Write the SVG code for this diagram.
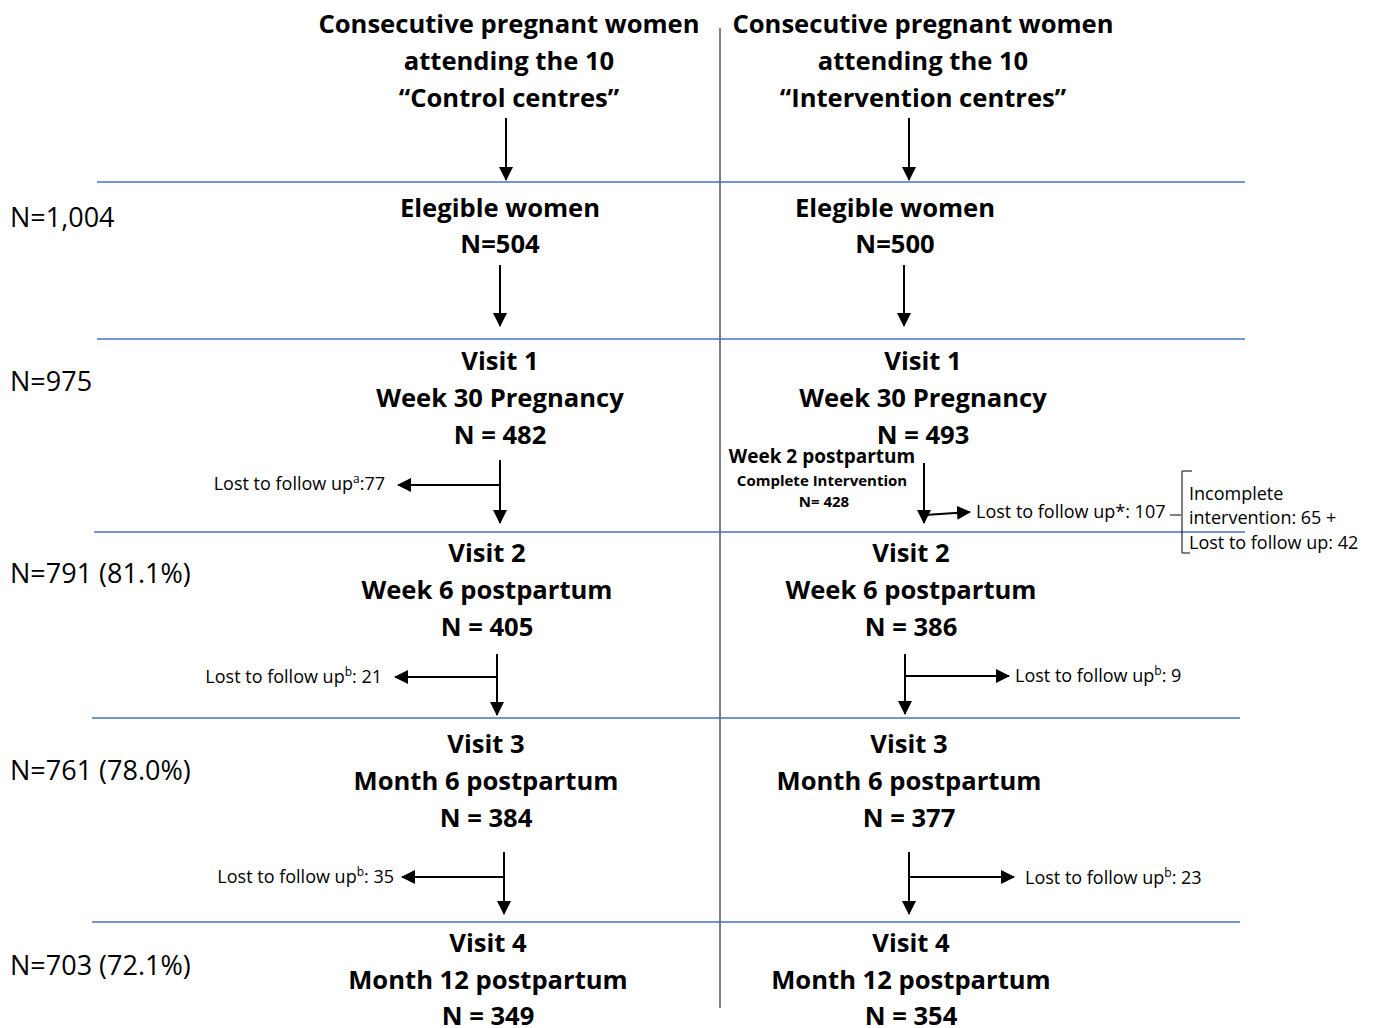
<svg xmlns="http://www.w3.org/2000/svg" width="1373" height="1028" viewBox="0 0 1373 1028">
<defs>
<marker id="ah" markerWidth="7" markerHeight="7" refX="6.5" refY="3.5" orient="auto" markerUnits="strokeWidth">
<path d="M0,0 L7,3.5 L0,7 Z" fill="#000"/>
</marker>
<style>
.t{font-family:"Open Sans","Liberation Sans",sans-serif;font-weight:bold;font-size:25.6px;fill:#000;text-anchor:middle}
.n{font-family:"Open Sans","Liberation Sans",sans-serif;font-size:27px;fill:#000}
.s{font-family:"Open Sans","Liberation Sans",sans-serif;font-size:18px;fill:#000}
.sup{font-size:12px}
.c{stroke:#000;stroke-width:2;fill:none}
.ca{stroke:#000;stroke-width:2;fill:none;marker-end:url(#ah)}
.h{stroke:#4472C4;stroke-width:1.5}
.d{stroke:#000;stroke-width:1}
</style>
</defs>
<rect width="1373" height="1028" fill="#fff"/>
<g id="grid">
<line class="d" x1="720" y1="28" x2="720" y2="1008"/>
<line class="h" x1="97" y1="182" x2="1245" y2="182"/>
<line class="h" x1="97" y1="339" x2="1245" y2="339"/>
<line class="h" x1="94" y1="532" x2="1245" y2="532"/>
<line class="h" x1="92" y1="718" x2="1240" y2="718"/>
<line class="h" x1="92" y1="922" x2="1240" y2="922"/>
</g>
<g id="totals">
<text class="n" x="10" y="227">N=1,004</text>
<text class="n" x="10" y="391">N=975</text>
<text class="n" x="10" y="583">N=791 (81.1%)</text>
<text class="n" x="10" y="780">N=761 (78.0%)</text>
<text class="n" x="10" y="975">N=703 (72.1%)</text>
</g>
<g id="control-start">
<text class="t" x="509" y="33">Consecutive pregnant women</text>
<text class="t" x="509" y="70">attending the 10</text>
<text class="t" x="509" y="107">“Control centres”</text>
</g>
<g id="intervention-start">
<text class="t" x="923" y="33">Consecutive pregnant women</text>
<text class="t" x="923" y="70">attending the 10</text>
<text class="t" x="923" y="107">“Intervention centres”</text>
</g>
<g id="control-eligible">
<text class="t" x="500" y="217">Elegible women</text>
<text class="t" x="500" y="253">N=504</text>
</g>
<g id="intervention-eligible">
<text class="t" x="895" y="217">Elegible women</text>
<text class="t" x="895" y="253">N=500</text>
</g>
<g id="control-visit1">
<text class="t" x="500" y="370">Visit 1</text>
<text class="t" x="500" y="407">Week 30 Pregnancy</text>
<text class="t" x="500" y="444">N = 482</text>
</g>
<g id="intervention-visit1">
<text class="t" x="923" y="370">Visit 1</text>
<text class="t" x="923" y="407">Week 30 Pregnancy</text>
<text class="t" x="923" y="444">N = 493</text>
</g>
<g id="intervention-week2">
<text class="t" x="822" y="463" style="font-size:19px">Week 2 postpartum</text>
<text class="t" x="822" y="486" style="font-size:15px">Complete  Intervention</text>
<text class="t" x="824" y="507" style="font-size:15px">N= 428</text>
</g>
<g id="control-visit2">
<text class="t" x="487" y="562">Visit 2</text>
<text class="t" x="487" y="599">Week 6 postpartum</text>
<text class="t" x="487" y="636">N = 405</text>
</g>
<g id="intervention-visit2">
<text class="t" x="911" y="562">Visit 2</text>
<text class="t" x="911" y="599">Week 6 postpartum</text>
<text class="t" x="911" y="636">N = 386</text>
</g>
<g id="control-visit3">
<text class="t" x="486" y="753">Visit 3</text>
<text class="t" x="486" y="790">Month 6 postpartum</text>
<text class="t" x="486" y="827">N = 384</text>
</g>
<g id="intervention-visit3">
<text class="t" x="909" y="753">Visit 3</text>
<text class="t" x="909" y="790">Month 6 postpartum</text>
<text class="t" x="909" y="827">N = 377</text>
</g>
<g id="control-visit4">
<text class="t" x="488" y="952">Visit 4</text>
<text class="t" x="488" y="989">Month 12 postpartum</text>
<text class="t" x="488" y="1025">N = 349</text>
</g>
<g id="intervention-visit4">
<text class="t" x="911" y="952">Visit 4</text>
<text class="t" x="911" y="989">Month 12 postpartum</text>
<text class="t" x="911" y="1025">N = 354</text>
</g>
<g id="lost-labels">
<text class="s" x="385" y="490" text-anchor="end">Lost to follow up<tspan class="sup" dy="-7">a</tspan><tspan dy="7">:77</tspan></text>
<text class="s" x="382" y="683" text-anchor="end">Lost to follow up<tspan class="sup" dy="-7">b</tspan><tspan dy="7">: 21</tspan></text>
<text class="s" x="394" y="883" text-anchor="end">Lost to follow up<tspan class="sup" dy="-7">b</tspan><tspan dy="7">: 35</tspan></text>
<text class="s" x="976" y="518">Lost to follow up*: 107</text>
<text class="s" x="1015" y="682">Lost to follow up<tspan class="sup" dy="-7">b</tspan><tspan dy="7">: 9</tspan></text>
<text class="s" x="1025" y="884">Lost to follow up<tspan class="sup" dy="-7">b</tspan><tspan dy="7">: 23</tspan></text>
<text class="s" x="1189" y="500">Incomplete</text>
<text class="s" x="1189" y="524">intervention: 65 +</text>
<text class="s" x="1189" y="549">Lost to follow up: 42</text>
</g>
<g id="connectors">
<line class="ca" x1="506" y1="118" x2="506" y2="180"/>
<line class="ca" x1="909" y1="118" x2="909" y2="180"/>
<line class="ca" x1="500" y1="265" x2="500" y2="326"/>
<line class="ca" x1="904" y1="265" x2="904" y2="326"/>
<line class="ca" x1="500" y1="460" x2="500" y2="523"/>
<line class="ca" x1="500" y1="485" x2="398" y2="485"/>
<line class="ca" x1="924" y1="463" x2="924" y2="523"/>
<line class="ca" x1="925" y1="515" x2="970" y2="512"/>
<line class="c" x1="1170" y1="515" x2="1181" y2="515" style="stroke-width:1"/>
<path class="c" d="M1192,471 H1182 V553 H1190" style="stroke-width:1"/>
<line class="ca" x1="497" y1="654" x2="497" y2="715"/>
<line class="ca" x1="497" y1="677" x2="395" y2="677"/>
<line class="ca" x1="905" y1="654" x2="905" y2="714"/>
<line class="ca" x1="905" y1="676" x2="1009" y2="676"/>
<line class="ca" x1="504" y1="852" x2="504" y2="914"/>
<line class="ca" x1="504" y1="877" x2="402" y2="877"/>
<line class="ca" x1="909" y1="852" x2="909" y2="914"/>
<line class="ca" x1="909" y1="877" x2="1014" y2="877"/>
</g>
</svg>
